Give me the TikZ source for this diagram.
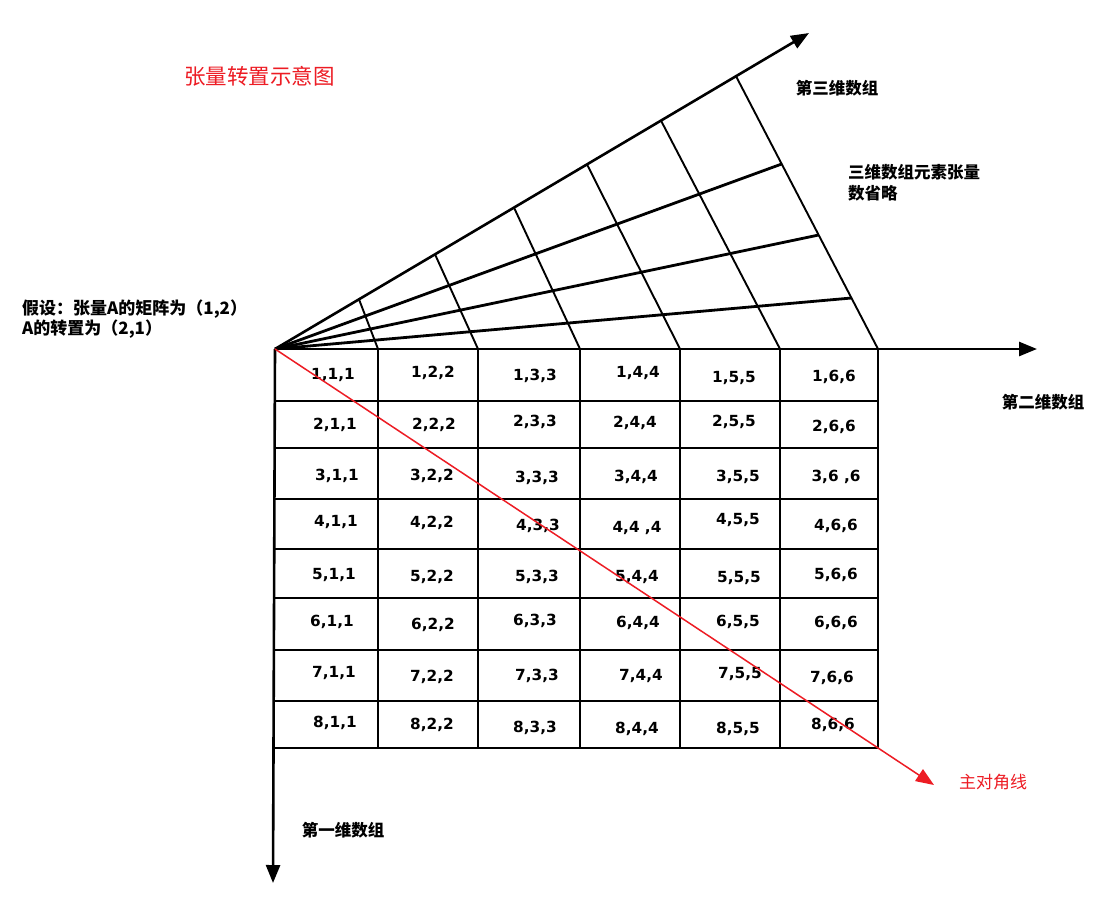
\documentclass[tikz,border=0pt]{standalone}
\usepackage{fontspec}
\setmainfont{DejaVu Sans}
\newfontfamily\cjk{Noto Sans CJK SC}
\usetikzlibrary{arrows.meta}
\definecolor{redline}{RGB}{237,28,36}
\begin{document}
\begin{tikzpicture}[x=1pt,y=-1pt,
  cell/.style={font=\fontsize{15.3}{15}\selectfont\bfseries, inner sep=0pt},
  lab/.style={font=\cjk\fontsize{16.5}{21}\selectfont\bfseries, inner sep=0pt, align=left},
  redlab/.style={font=\cjk\fontsize{17}{20}\selectfont, text=redline, inner sep=0pt},
  axis/.style={line width=2.6pt, -{Triangle[length=18pt,width=14pt]}},
  fan/.style={line width=2.8pt},
  cross/.style={line width=1.9pt},
  gridl/.style={line width=2.2pt},
  diag/.style={draw=redline, line width=1.5pt, -{Triangle[length=18pt,width=14pt]}}
]
\fill[white] (0,0) rectangle (1111,903);
\useasboundingbox (0,0) rectangle (1111,903);

% key coordinates
\coordinate (O) at (275,349);
\coordinate (T) at (809,33);
\coordinate (H) at (1037,349);
\coordinate (V) at (273,883);
\coordinate (D) at (934,785);
\coordinate (F2) at (781.7,164);
\coordinate (F3) at (818.7,235);
\coordinate (F4) at (851.5,298);
\coordinate (T1) at (359,299.3);
\coordinate (T2) at (435,254.3);
\coordinate (T3) at (514,207.6);
\coordinate (T4) at (587,164.4);
\coordinate (T5) at (661,120.6);
\coordinate (T6) at (736,76.2);
\coordinate (B1) at (378,349);
\coordinate (B2) at (478,349);
\coordinate (B3) at (580,349);
\coordinate (B4) at (680,349);
\coordinate (B5) at (780,349);
\coordinate (B6) at (878,349);

% fan (third dimension)
\draw[fan] (O) -- (F2);
\draw[fan] (O) -- (F3);
\draw[fan] (O) -- (F4);
\foreach \i in {1,...,6} \draw[cross] (T\i) -- (B\i);

% grid
\foreach \yy in {401,448,499,549,598,650,701,748}
  \draw[gridl] (275,\yy) -- (878,\yy);
\foreach \xx in {378,478,580,680,780,878}
  \draw[gridl] (\xx,349) -- (\xx,748);

% axes
\draw[axis] (O) -- (T);
\draw[axis] (O) -- (H);
\draw[axis] (O) -- (V);

% cells
\node[cell] (c11) at (333,375) {1,1,1};
\node[cell] (c12) at (433,373) {1,2,2};
\node[cell] (c13) at (535,376) {1,3,3};
\node[cell] (c14) at (638,373) {1,4,4};
\node[cell] (c15) at (734,378) {1,5,5};
\node[cell] (c16) at (834,377) {1,6,6};
\node[cell] (c21) at (335,425) {2,1,1};
\node[cell] (c22) at (434,425) {2,2,2};
\node[cell] (c23) at (535,422) {2,3,3};
\node[cell] (c24) at (635,423) {2,4,4};
\node[cell] (c25) at (734,422) {2,5,5};
\node[cell] (c26) at (834,427) {2,6,6};
\node[cell] (c31) at (337,476) {3,1,1};
\node[cell] (c32) at (432,476) {3,2,2};
\node[cell] (c33) at (537,478) {3,3,3};
\node[cell] (c34) at (636,477) {3,4,4};
\node[cell] (c35) at (738,477) {3,5,5};
\node[cell] (c36) at (836,477) {3,6 ,6};
\node[cell] (c41) at (336,522) {4,1,1};
\node[cell] (c42) at (432,523) {4,2,2};
\node[cell] (c43) at (538,526) {4,3,3};
\node[cell] (c44) at (637,528) {4,4 ,4};
\node[cell] (c45) at (738,520) {4,5,5};
\node[cell] (c46) at (836,526) {4,6,6};
\node[cell] (c51) at (334,575) {5,1,1};
\node[cell] (c52) at (432,577) {5,2,2};
\node[cell] (c53) at (537,577) {5,3,3};
\node[cell] (c54) at (637,577) {5,4,4};
\node[cell] (c55) at (739,578) {5,5,5};
\node[cell] (c56) at (836,575) {5,6,6};
\node[cell] (c61) at (332,622) {6,1,1};
\node[cell] (c62) at (433,625) {6,2,2};
\node[cell] (c63) at (535,621) {6,3,3};
\node[cell] (c64) at (638,623) {6,4,4};
\node[cell] (c65) at (738,622) {6,5,5};
\node[cell] (c66) at (836,623) {6,6,6};
\node[cell] (c71) at (334,673) {7,1,1};
\node[cell] (c72) at (432,677) {7,2,2};
\node[cell] (c73) at (537,676) {7,3,3};
\node[cell] (c74) at (641,676) {7,4,4};
\node[cell] (c75) at (740,674) {7,5,5};
\node[cell] (c76) at (832,678) {7,6,6};
\node[cell] (c81) at (335,723) {8,1,1};
\node[cell] (c82) at (432,725) {8,2,2};
\node[cell] (c83) at (535,728) {8,3,3};
\node[cell] (c84) at (637,729) {8,4,4};
\node[cell] (c85) at (738,729) {8,5,5};
\node[cell] (c86) at (833,725) {8,6,6};

% labels
\node[redlab, font=\cjk\fontsize{21.5}{24}\selectfont, anchor=west] (title) at (184,76) {张量转置示意图};
\node[lab, font=\cjk\fontsize{17}{20}\selectfont\bfseries, anchor=north west] (hyp) at (22,300) {假设：张量A的矩阵为（1,2）\\A的转置为（2,1）};
\node[lab] (dim3) at (837,88) {第三维数组};
\node[lab, anchor=north west] (note) at (848,164) {三维数组元素张量\\数省略};
\node[lab] (dim2) at (1043,402) {第二维数组};
\node[lab] (dim1) at (343,830) {第一维数组};
\node[redlab] (diaglab) at (993,782) {主对角线};

% main diagonal
\draw[diag] (O) -- (D);
\end{tikzpicture}
\end{document}
